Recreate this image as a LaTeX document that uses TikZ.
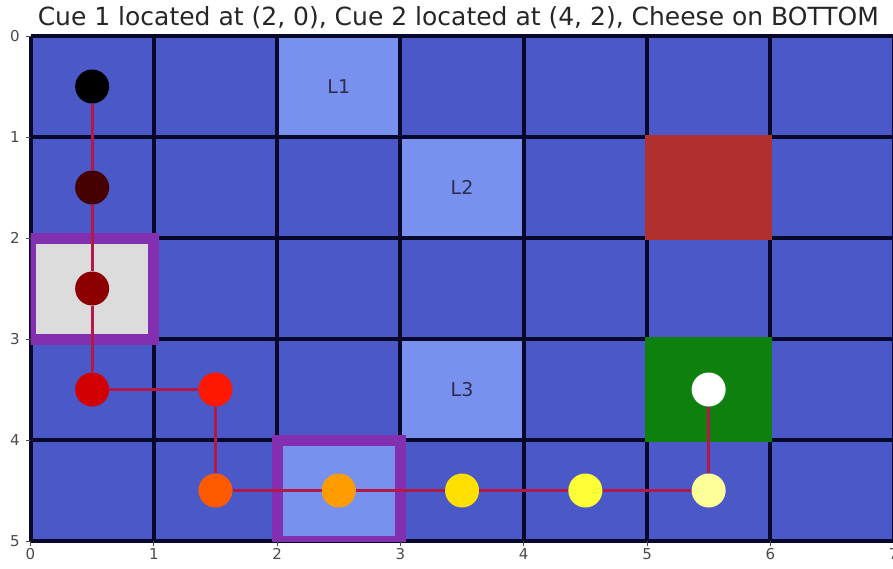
\documentclass[tikz,border=0pt]{standalone}
\usepackage{fontspec}
\setmainfont{DejaVu Sans}
\usetikzlibrary{positioning}

\definecolor{mazeblue}{HTML}{4A58C8}
\definecolor{cueblue}{HTML}{7890EE}
\definecolor{startgray}{HTML}{DCDCDC}
\definecolor{wallred}{HTML}{B03030}
\definecolor{goalgreen}{HTML}{0E800E}
\definecolor{gridline}{HTML}{08082A}
\definecolor{boxpurple}{HTML}{8230B0}
\definecolor{trailred}{HTML}{B41848}
\definecolor{ticktext}{HTML}{4A4A4A}
\definecolor{hot1}{HTML}{460000}
\definecolor{hot2}{HTML}{8C0000}
\definecolor{hot3}{HTML}{D20000}
\definecolor{hot4}{HTML}{FF1700}
\definecolor{hot5}{HTML}{FF5A00}
\definecolor{hot6}{HTML}{FF9D00}
\definecolor{hot7}{HTML}{FFE000}
\definecolor{hot8}{HTML}{FFFF36}
\definecolor{hot9}{HTML}{FFFF9A}

\begin{document}
\begin{tikzpicture}[
  x=123.3pt, y=-101pt,
  cue/.style={fill=cueblue},
  cuelbl/.style={font=\fontsize{19}{19}\selectfont, text=gridline!85},
  grid/.style={draw=gridline, line width=4pt},
  frame/.style={draw=boxpurple, line width=11pt},
  dot/.style={circle, minimum size=34pt, inner sep=0pt},
  trail/.style={draw=trailred, line width=3pt},
  ticklbl/.style={font=\fontsize{15}{15}\selectfont, text=ticktext},
  tickmark/.style={draw=ticktext, line width=0.8pt}
]
\useasboundingbox (-0.2474,-0.3564) rectangle (6.995,5.277);

% board
\fill[mazeblue] (0,0) rectangle (7,5);
\fill[cue] (2,0) rectangle (3,1);
\fill[cue] (3,1) rectangle (4,2);
\fill[cue] (3,3) rectangle (4,4);
\fill[cue] (2,4) rectangle (3,5);
\fill[startgray] (0,2) rectangle (1,3);
\node[cuelbl] (l1) at (2.5,0.5) {L1};
\node[cuelbl] (l2) at (3.5,1.5) {L2};
\node[cuelbl] (l3) at (3.5,3.5) {L3};

% grid lines
\foreach \i in {0,...,7} \draw[grid] (\i,0) -- (\i,5);
\foreach \j in {0,...,5} \draw[grid] (0,\j) -- (7,\j);

% wall and cheese
\fill[wallred] (4.985,0.985) rectangle (6.015,2.02);
\fill[goalgreen] (4.985,2.985) rectangle (6.015,4.02);

% highlighted cells
\begin{scope}
  \clip (0,0) rectangle (7,5);
  \draw[frame] (0,2) rectangle (1,3);
  \draw[frame] (2,4) rectangle (3,5);
\end{scope}

% path of the mouse
\node[dot, fill=black] (s0) at (0.5,0.5) {};
\node[dot, fill=hot1] (s1) at (0.5,1.5) {};
\node[dot, fill=hot2] (s2) at (0.5,2.5) {};
\node[dot, fill=hot3] (s3) at (0.5,3.5) {};
\node[dot, fill=hot4] (s4) at (1.5,3.5) {};
\node[dot, fill=hot5] (s5) at (1.5,4.5) {};
\node[dot, fill=hot6] (s6) at (2.5,4.5) {};
\node[dot, fill=hot7] (s7) at (3.5,4.5) {};
\node[dot, fill=hot8] (s8) at (4.5,4.5) {};
\node[dot, fill=hot9] (s9) at (5.5,4.5) {};
\node[dot, fill=white] (s10) at (5.5,3.5) {};

\draw[trail] (s0) -- (s1);
\draw[trail] (s1) -- (s2);
\draw[trail] (s2) -- (s3);
\draw[trail] (s3) -- (s4);
\draw[trail] (s4) -- (s5);
\draw[trail] (s5) -- (s6);
\draw[trail] (s6) -- (s7);
\draw[trail] (s7) -- (s8);
\draw[trail] (s8) -- (s9);
\draw[trail] (s9) -- (s10);

% axes
\foreach \j in {0,...,5} {
  \draw[tickmark] (0,\j) -- ++(-5pt,0);
  \node[ticklbl, anchor=east] (yt\j) at (-0.06,\j) {\j};
}
\foreach \i in {0,...,7} {
  \draw[tickmark] (\i,5) -- ++(0,-5pt);
  \node[ticklbl, anchor=north] (xt\i) at (\i,5.04) {\i};
}

\node[font=\fontsize{25}{25}\selectfont, text=black!85] (title) at (3.47,-0.18)
  {Cue 1 located at (2, 0), Cue 2 located at (4, 2), Cheese on BOTTOM};
\end{tikzpicture}
\end{document}
